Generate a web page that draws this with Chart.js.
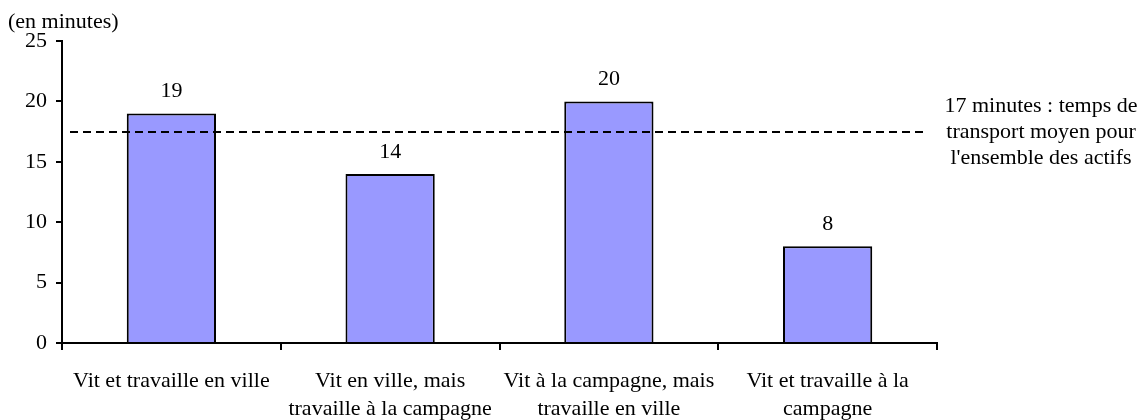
<!DOCTYPE html>
<html>
<head>
<meta charset="utf-8">
<script src="https://cdn.jsdelivr.net/npm/chart.js@4/dist/chart.umd.min.js"></script>
<style>
  html, body { margin: 0; padding: 0; background: #fff; }
  #wrap { width: 1147px; height: 420px; position: relative; }
</style>
</head>
<body>
<div id="wrap"><canvas id="chart"></canvas></div>
<script>
// data
const categories = [
    ['Vit et travaille en ville'],
    ['Vit en ville, mais', 'travaille à la campagne'],
    ['Vit à la campagne, mais', 'travaille en ville'],
    ['Vit et travaille à la', 'campagne']
];
const minutes = [19, 14, 20, 8];
const avgLine = 17.5;
const avgText = ['17 minutes : temps de', 'transport moyen pour', "l'ensemble des actifs"];
const yTicks = [0, 5, 10, 15, 20, 25];
const yUnit = '(en minutes)';

const FONT = '"Liberation Serif", "Times New Roman", serif';

// value labels, dashed average line, side note and unit
const extras = {
    id: 'extras',
    afterDatasetsDraw(chart) {
        const ctx = chart.ctx;
        const y = chart.scales.y;
        const meta = chart.getDatasetMeta(0);
        ctx.save();
        ctx.fillStyle = '#000';
        ctx.font = '22px ' + FONT;
        ctx.textAlign = 'center';
        ctx.textBaseline = 'middle';
        meta.data.forEach((bar, i) => {
            ctx.fillText(String(minutes[i]), bar.x, bar.y - 22);
        });

        // dashed average line
        const ly = Math.round(y.getPixelForValue(avgLine));
        ctx.strokeStyle = '#000';
        ctx.lineWidth = 2;
        ctx.setLineDash([8, 5]);
        ctx.beginPath();
        ctx.moveTo(chart.chartArea.left + 8, ly);
        ctx.lineTo(chart.chartArea.right - 12, ly);
        ctx.stroke();
        ctx.setLineDash([]);

        // note on the right
        avgText.forEach((t, i) => {
            ctx.fillText(t, 1041, ly - 26 + i * 26);
        });

        // unit at top left
        ctx.textAlign = 'left';
        ctx.fillText(yUnit, 8, 22);
        ctx.restore();
    }
};

new Chart(document.getElementById('chart'), {
    type: 'bar',
    data: {
        labels: categories,
        datasets: [{
            data: minutes,
            backgroundColor: '#9999ff',
            borderColor: '#000',
            borderWidth: 2,
            categoryPercentage: 0.8,
            barPercentage: 0.51
        }]
    },
    options: {
        responsive: true,
        maintainAspectRatio: false,
        animation: false,
        layout: { padding: { top: 41, right: 210, left: 0, bottom: 0 } },
        plugins: { legend: { display: false }, tooltip: { enabled: false } },
        scales: {
            x: {
                grid: { drawOnChartArea: false, tickLength: 7, color: '#000', lineWidth: 2 },
                border: { color: '#000', width: 2 },
                ticks: {
                    color: '#000',
                    font: { family: FONT, size: 22, lineHeight: 1.24 },
                    padding: 18,
                    maxRotation: 0,
                    autoSkip: false
                },
                afterFit(s) { s.height = 77; }
            },
            y: {
                min: 0, max: 25,
                afterBuildTicks(s) { s.ticks = yTicks.map(v => ({ value: v })); },
                grid: { drawOnChartArea: false, tickLength: 6, color: '#000', lineWidth: 2 },
                border: { color: '#000', width: 2 },
                ticks: {
                    color: '#000',
                    font: { family: FONT, size: 22 },
                    padding: 9
                },
                afterFit(s) { s.width = 62; }
            }
        }
    },
    plugins: [extras]
});
</script>
</body>
</html>
